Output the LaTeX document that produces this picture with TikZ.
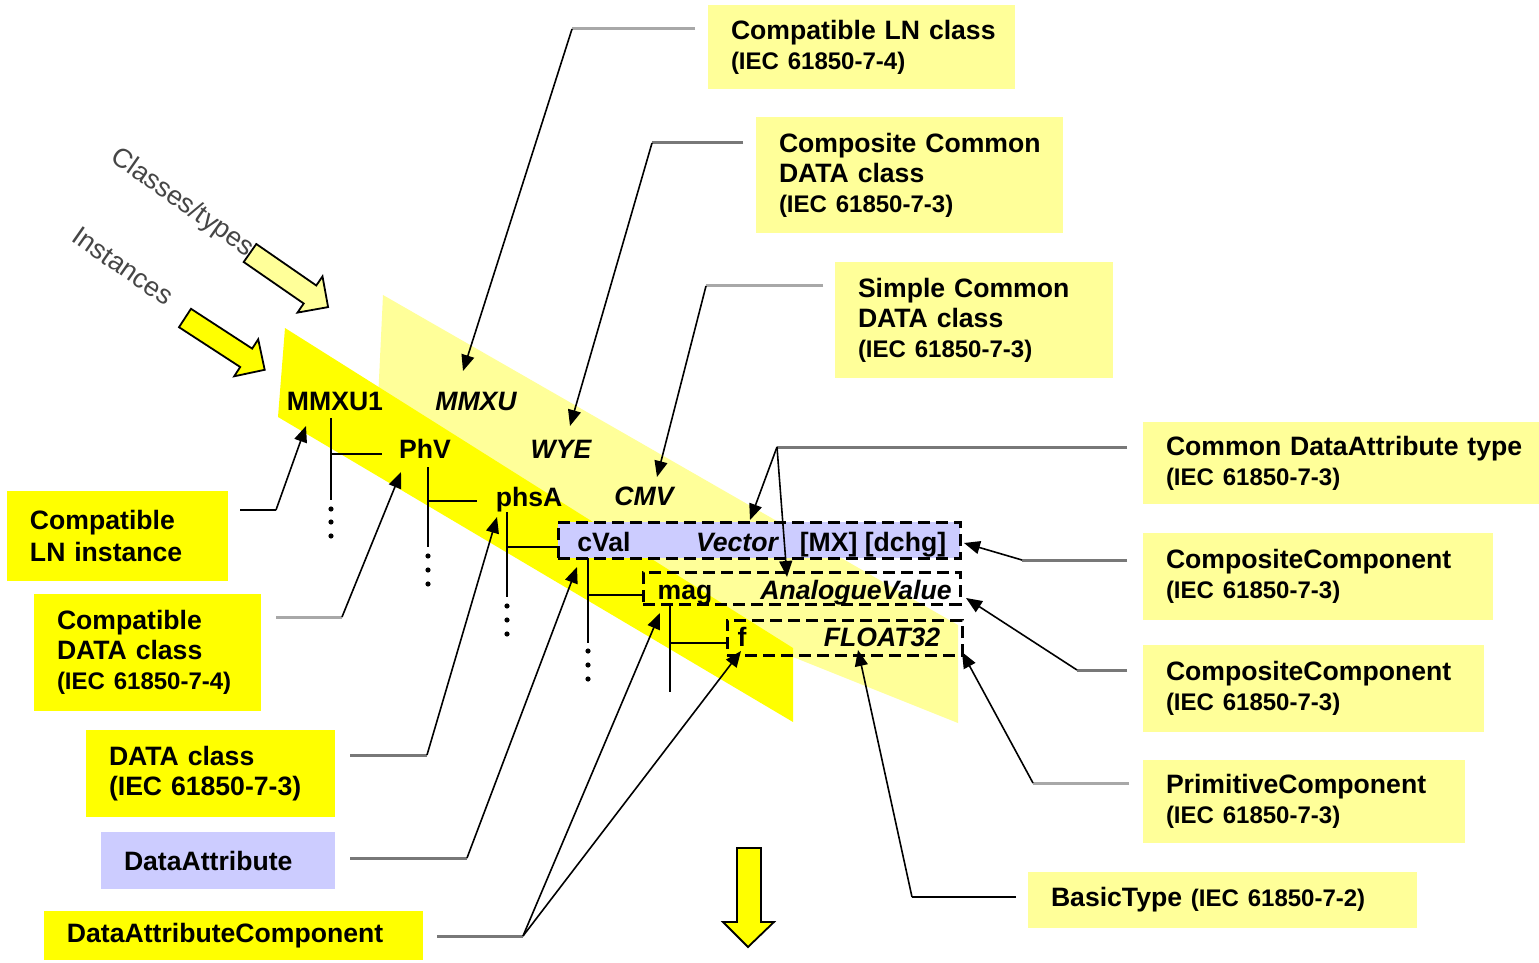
\documentclass[tikz,border=0pt]{standalone}
\usepackage{fontspec}
\setmainfont{Liberation Sans}
\usetikzlibrary{arrows.meta}
\definecolor{by}{RGB}{255,255,0}
\definecolor{ly}{RGB}{255,255,153}
\definecolor{lav}{RGB}{204,204,255}
\definecolor{glight}{RGB}{168,168,168}
\definecolor{gdark}{RGB}{120,120,120}
\definecolor{rtxt}{RGB}{70,70,70}
\newcommand\iecsmall[1]{{\fontsize{12}{14}\selectfont #1}}
\hyphenpenalty=10000
\exhyphenpenalty=10000
\hbadness=10000
\hfuzz=50pt
\begin{document}
\begin{tikzpicture}[x=0.5pt,y=-0.5pt,
  lbox/.style={fill=ly, inner xsep=11.5pt, inner ysep=0pt, align=left, font=\bfseries\fontsize{13.3}{15}\selectfont},
  bbox/.style={lbox, fill=by},
  vbox/.style={lbox, fill=lav},
  btxt/.style={font=\bfseries\fontsize{13.3}{15}\selectfont, inner sep=0pt, anchor=base},
  itxt/.style={btxt, font=\bfseries\itshape\fontsize{13.3}{15}\selectfont},
  dbox/.style={draw=black, line width=1.5pt, dash pattern=on 6pt off 3pt, inner sep=0pt},
  tree/.style={draw=black, line width=1.2pt},
  gl/.style={draw=glight, line width=1.5pt},
  gd/.style={draw=gdark, line width=1.5pt},
  gk/.style={draw=black, line width=1.2pt},
  ann/.style={-{Triangle[length=8pt,width=6.5pt]}, draw=black, line width=0.8pt},
  blk/.style={draw=black, line width=0.9pt, line join=miter},
  rtx/.style={font=\fontsize{13.5}{14}\selectfont, text=rtxt, rotate=-35, inner sep=0pt}
]
\fill[white] (0,0) rectangle (1539,963);
\useasboundingbox (0,0) rectangle (1539,963);

% bands
\fill[ly] (383,295) -- (958,625) -- (958,723) -- (793,657) -- (378,400) -- cycle;
\fill[by] (285,328) -- (793,648) -- (793,722) -- (278,417) -- cycle;

% block arrows
\draw[blk, fill=ly] (243.7,262) -- (303.7,303.5) -- (297.5,312.6) -- (328.1,307.1) -- (322.5,276.4) -- (316.3,285.5) -- (256.3,244) -- cycle;
\draw[blk, fill=by] (179,327.2) -- (240.2,367) -- (234.2,376.3) -- (264.7,369.8) -- (258.2,339.3) -- (252.2,348.6) -- (191,308.8) -- cycle;
\draw[blk, fill=by] (737,848) -- (761,848) -- (761,922) -- (774,922) -- (748,947) -- (723,922) -- (737,922) -- cycle;

\node[rtx] (cls) at (182,203) {Classes/types};
\node[rtx] (inst) at (123,266) {Instances};

% dashed boxes
\node[dbox, fill=lav, minimum width=201pt, minimum height=18pt] (cvalbox) at (759,540) {};
\node[dbox, minimum width=158.5pt, minimum height=16pt] (magbox) at (801.5,588) {};
\node[dbox, minimum width=117.5pt, minimum height=17.5pt] (fbox) at (844.5,637.5) {};

% band texts
\node[btxt] (mmxu1) at (335,410) {MMXU1};
\node[itxt] (mmxu) at (476,410) {MMXU};
\node[btxt] (phv) at (425,458) {PhV};
\node[itxt] (wye) at (561,458) {WYE};
\node[btxt] (phsa) at (529,506) {phsA};
\node[itxt] (cmv) at (644,505) {CMV};
\node[btxt] (cval) at (604,551) {cVal};
\node[itxt] (vector) at (737,551) {Vector};
\node[btxt] (mxdchg) at (873,551) {[MX] [dchg]};
\node[btxt] (mag) at (685,599) {mag};
\node[itxt] (anval) at (856,599) {AnalogueValue};
\node[btxt] (f) at (742,646) {f};
\node[itxt] (float) at (882,646) {FLOAT32};

% tree coordinates
\coordinate (v1t) at (331,418); \coordinate (v1b) at (331,500);
\coordinate (h1a) at (331,454); \coordinate (h1b) at (382,454);
\coordinate (v2t) at (428,467); \coordinate (v2b) at (428,547);
\coordinate (h2a) at (428,501); \coordinate (h2b) at (477,501);
\coordinate (v3t) at (507,512); \coordinate (v3b) at (507,597);
\coordinate (h3a) at (507,547); \coordinate (h3b) at (558,547);
\coordinate (v4t) at (588,558); \coordinate (v4b) at (588,643);
\coordinate (h4a) at (588,595); \coordinate (h4b) at (643,595);
\coordinate (v5t) at (670,604); \coordinate (v5b) at (670,692);
\coordinate (h5a) at (670,643); \coordinate (h5b) at (727,643);
\draw[tree] (v1t) -- (v1b); \draw[tree] (h1a) -- (h1b);
\draw[tree] (v2t) -- (v2b); \draw[tree] (h2a) -- (h2b);
\draw[tree] (v3t) -- (v3b); \draw[tree] (h3a) -- (h3b);
\draw[tree] (v4t) -- (v4b); \draw[tree] (h4a) -- (h4b);
\draw[tree] (v5t) -- (v5b); \draw[tree] (h5a) -- (h5b);
\foreach \y in {509,522,536} \fill (331,\y) circle (1.3pt);
\foreach \y in {556,570,584} \fill (428,\y) circle (1.3pt);
\foreach \y in {606,620,634} \fill (507,\y) circle (1.3pt);
\foreach \y in {651,665,679} \fill (588,\y) circle (1.3pt);

% label boxes right/top
\node[lbox, text width=130.5pt, minimum height=42pt] (lnclass) at (861.5,47) {Compatible~LN~class\\\iecsmall{(IEC 61850-7-4)}};
\node[lbox, text width=130.5pt, minimum height=58pt] (ccdc) at (909.5,175) {Composite~Common\\DATA~class\\\iecsmall{(IEC 61850-7-3)}};
\node[lbox, text width=116pt, minimum height=58pt] (scdc) at (974,320) {Simple~Common\\DATA~class\\\iecsmall{(IEC 61850-7-3)}};
\node[lbox, text width=175pt, minimum height=41pt] (cdat) at (1341,463) {Common~DataAttribute~type\\\iecsmall{(IEC 61850-7-3)}};
\node[lbox, text width=152pt, minimum height=43.5pt] (cc1) at (1318,576.5) {CompositeComponent\\\iecsmall{(IEC 61850-7-3)}};
\node[lbox, text width=147.5pt, minimum height=43.5pt] (cc2) at (1313.5,688.5) {CompositeComponent\\\iecsmall{(IEC 61850-7-3)}};
\node[lbox, text width=138pt, minimum height=41.5pt] (prim) at (1304,801.5) {PrimitiveComponent\\\iecsmall{(IEC 61850-7-3)}};
\node[lbox, text width=171.5pt, minimum height=28pt] (basic) at (1222.5,900) {BasicType~\iecsmall{(IEC~61850-7-2)}};

% label boxes left
\node[bbox, text width=87.5pt, minimum height=45pt, font=\bfseries\fontsize{13.3}{16}\selectfont] (lninst) at (117.5,536) {Compatible\\LN~instance};
\node[bbox, text width=90.5pt, minimum height=58.5pt] (cdc) at (147.5,652.5) {Compatible\\DATA~class\\\iecsmall{(IEC 61850-7-4)}};
\node[bbox, text width=101.5pt, minimum height=43.5pt] (dc) at (210.5,773.5) {DATA~class\\(IEC~61850-7-3)};
\node[vbox, text width=94pt, minimum height=28.5pt] (da) at (218,860.5) {DataAttribute};
\node[bbox, text width=166.5pt, minimum height=24.5pt] (dac) at (233.5,935.5) {DataAttributeComponent};

% connector coordinates
\coordinate (g1s) at (695,29);   \coordinate (g1c) at (572,29);   \coordinate (a1) at (463,371);
\coordinate (g2s) at (743,143);  \coordinate (g2c) at (652,143);  \coordinate (a2) at (570,426);
\coordinate (g3s) at (823,286);  \coordinate (g3c) at (706,286);  \coordinate (a3) at (657,477);
\coordinate (g4s) at (1127,447); \coordinate (g4c) at (777,447);  \coordinate (a4a) at (750,520); \coordinate (a4b) at (787,577);
\coordinate (g5s) at (1127,560); \coordinate (g5c) at (1022,560); \coordinate (a5) at (964,543);
\coordinate (g6s) at (1127,670); \coordinate (g6c) at (1077,670); \coordinate (a6) at (966,598);
\coordinate (g7s) at (1129,783); \coordinate (g7c) at (1033,783); \coordinate (a7) at (962,652);
\coordinate (g8s) at (1016,897); \coordinate (g8c) at (912,897);  \coordinate (a8) at (858,650);
\coordinate (g9s) at (240,510);  \coordinate (g9c) at (276,510);  \coordinate (a9) at (306,426);
\coordinate (g10s) at (276,617); \coordinate (g10c) at (342,617); \coordinate (a10) at (401,472);
\coordinate (g11s) at (350,755); \coordinate (g11c) at (427,755); \coordinate (a11) at (497,517);
\coordinate (g12s) at (350,858); \coordinate (g12c) at (467,858); \coordinate (a12) at (577,567);
\coordinate (g13s) at (437,936); \coordinate (g13c) at (523,936); \coordinate (a13a) at (660,613); \coordinate (a13b) at (741,651);

\draw[gl] (g1s) -- (g1c);   \draw[ann] (g1c) -- (a1);
\draw[gd] (g2s) -- (g2c);   \draw[ann] (g2c) -- (a2);
\draw[gl] (g3s) -- (g3c);   \draw[ann] (g3c) -- (a3);
\draw[gd] (g4s) -- (g4c);   \draw[ann] (g4c) -- (a4a); \draw[ann] (g4c) -- (a4b);
\draw[gd] (g5s) -- (g5c);   \draw[ann] (g5c) -- (a5);
\draw[gd] (g6s) -- (g6c);   \draw[ann] (g6c) -- (a6);
\draw[gl] (g7s) -- (g7c);   \draw[ann] (g7c) -- (a7);
\draw[gk] (g8s) -- (g8c);   \draw[ann] (g8c) -- (a8);
\draw[gk] (g9s) -- (g9c);   \draw[ann] (g9c) -- (a9);
\draw[gl] (g10s) -- (g10c); \draw[ann] (g10c) -- (a10);
\draw[gd] (g11s) -- (g11c); \draw[ann] (g11c) -- (a11);
\draw[gd] (g12s) -- (g12c); \draw[ann] (g12c) -- (a12);
\draw[gd] (g13s) -- (g13c); \draw[ann] (g13c) -- (a13a); \draw[ann] (g13c) -- (a13b);
\end{tikzpicture}
\end{document}
